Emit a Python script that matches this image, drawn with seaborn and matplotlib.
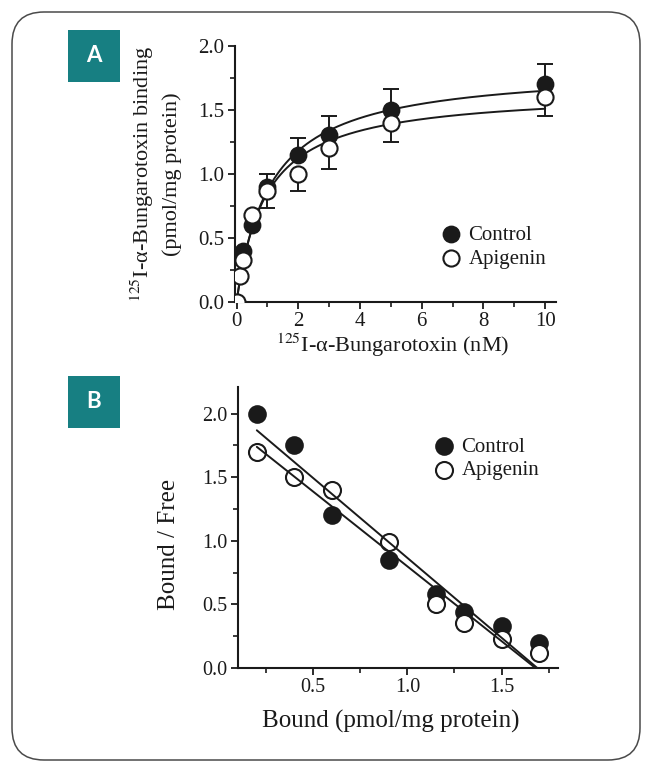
import numpy as np
import pandas as pd
import matplotlib
matplotlib.use("Agg")
import matplotlib.pyplot as plt
import seaborn as sns
from matplotlib.patches import FancyBboxPatch, Rectangle
from matplotlib.ticker import MultipleLocator, FormatStrFormatter

# ---- panel A : saturation binding ----
ctrl_conc = [0.2, 0.5, 1, 2, 3, 5, 10]
ctrl_bound = [0.40, 0.60, 0.90, 1.15, 1.30, 1.50, 1.70]
ctrl_err_up = [0.0, 0.0, 0.10, 0.13, 0.15, 0.16, 0.16]

api_conc = [0, 0.1, 0.2, 0.5, 1, 2, 3, 5, 10]
api_bound = [0.00, 0.20, 0.33, 0.68, 0.87, 1.00, 1.20, 1.40, 1.60]
api_err_down = [0.0, 0.0, 0.0, 0.0, 0.14, 0.13, 0.16, 0.15, 0.15]

# hyperbolic fit parameters (Bmax, Kd)
ctrl_bmax, ctrl_kd = 1.83, 1.10
api_bmax, api_kd = 1.65, 0.94

# ---- panel B : Scatchard ----
sc_bound = [0.2, 0.4, 0.6, 0.9, 1.15, 1.3, 1.5, 1.7]
sc_ctrl = [2.00, 1.75, 1.20, 0.85, 0.58, 0.44, 0.33, 0.20]
sc_api = [1.70, 1.50, 1.40, 0.99, 0.50, 0.35, 0.23, 0.12]

# linear fits (Bmax = x intercept, Kd = -1/slope)
sc_ctrl_bmax, sc_ctrl_kd = 1.69, 0.797
sc_api_bmax, sc_api_kd = 1.68, 0.851

TEAL = "#177f82"
INK = "#1a1a1a"

sns.set_theme(style="ticks")
plt.rcParams["font.family"] = ["Liberation Serif", "DejaVu Serif"]
plt.rcParams["mathtext.fontset"] = "stix"
plt.rcParams["text.color"] = INK
plt.rcParams["axes.labelcolor"] = INK
plt.rcParams["xtick.color"] = INK
plt.rcParams["ytick.color"] = INK

fig = plt.figure(figsize=(6.48, 7.72), dpi=100)
ax_a = fig.add_axes([235 / 648, 1 - 302 / 772, 321 / 648, 256.3 / 772])
ax_b = fig.add_axes([238 / 648, 1 - 668 / 772, 320 / 648, 281 / 772])


def style_axis(ax, tick_size):
    sns.despine(ax=ax)
    for side in ["left", "bottom"]:
        ax.spines[side].set_linewidth(1.5)
        ax.spines[side].set_color(INK)
    ax.tick_params(which="major", direction="out", length=5, width=1.3,
                   labelsize=tick_size, pad=2.5)
    ax.tick_params(which="minor", direction="out", length=3.5, width=1.2)
    ax.grid(False)
    ax.set_facecolor("white")


# ---------------- Panel A ----------------
xfit = np.linspace(0, 10, 300)
fit_df = pd.DataFrame({
    "x": np.concatenate([xfit, xfit]),
    "y": np.concatenate([ctrl_bmax * xfit / (ctrl_kd + xfit),
                         api_bmax * xfit / (api_kd + xfit)]),
    "grp": ["Control"] * len(xfit) + ["Apigenin"] * len(xfit),
})
sns.lineplot(data=fit_df, x="x", y="y", units="grp", estimator=None,
             color=INK, lw=1.4, ax=ax_a, zorder=2, legend=False)

ax_a.errorbar(ctrl_conc, ctrl_bound, yerr=[np.zeros(len(ctrl_conc)), ctrl_err_up],
              fmt="none", ecolor=INK, elinewidth=1.4, capsize=6, capthick=1.4, zorder=3)
ax_a.errorbar(api_conc, api_bound, yerr=[api_err_down, np.zeros(len(api_conc))],
              fmt="none", ecolor=INK, elinewidth=1.4, capsize=6, capthick=1.4, zorder=3)

sns.scatterplot(x=ctrl_conc, y=ctrl_bound, s=135, color=INK, edgecolor=INK,
                linewidth=1.2, label="Control", ax=ax_a, zorder=4)
sns.scatterplot(x=api_conc, y=api_bound, s=135, facecolor="white", edgecolor=INK,
                linewidth=1.5, label="Apigenin", ax=ax_a, zorder=5)

ax_a.set_xlim(-0.05, 10.35)
ax_a.set_ylim(0, 2.0)
ax_a.xaxis.set_major_locator(MultipleLocator(2))
ax_a.xaxis.set_minor_locator(MultipleLocator(1))
ax_a.yaxis.set_major_locator(MultipleLocator(0.5))
ax_a.yaxis.set_minor_locator(MultipleLocator(0.25))
ax_a.xaxis.set_major_formatter(FormatStrFormatter("%d"))
ax_a.yaxis.set_major_formatter(FormatStrFormatter("%.1f"))
style_axis(ax_a, 15)
ax_a.set_xlabel(r"$^{125}$I-α-Bungarotoxin (nM)", fontsize=16, va="top")
ax_a.xaxis.set_label_coords(0.49, -0.115)
ax_a.set_ylabel("$^{125}$I-α-Bungarotoxin binding\n(pmol/mg protein)",
                fontsize=16, linespacing=1.45)
ax_a.yaxis.set_label_coords(-0.165, 0.5)
ax_a.legend(loc="center left", bbox_to_anchor=(0.64, 0.215), frameon=False,
            fontsize=15, handlelength=1.0, handletextpad=0.35, labelspacing=0.2,
            borderpad=0, borderaxespad=0)

# ---------------- Panel B ----------------
xc = np.linspace(sc_bound[0], sc_ctrl_bmax, 50)
xa = np.linspace(sc_bound[0], sc_api_bmax, 50)
sc_fit = pd.DataFrame({
    "x": np.concatenate([xc, xa]),
    "y": np.concatenate([(sc_ctrl_bmax - xc) / sc_ctrl_kd,
                         (sc_api_bmax - xa) / sc_api_kd]),
    "grp": ["Control"] * len(xc) + ["Apigenin"] * len(xa),
})

sns.scatterplot(x=sc_bound, y=sc_ctrl, s=150, color=INK, edgecolor=INK,
                linewidth=1.2, label="Control", ax=ax_b, zorder=3)
sns.scatterplot(x=sc_bound, y=sc_api, s=150, facecolor="white", edgecolor=INK,
                linewidth=1.5, label="Apigenin", ax=ax_b, zorder=4)
sns.lineplot(data=sc_fit, x="x", y="y", units="grp", estimator=None,
             color=INK, lw=1.4, ax=ax_b, zorder=5, legend=False)

ax_b.set_xlim(0.1, 1.8)
ax_b.set_ylim(0, 2.21)
ax_b.xaxis.set_major_locator(MultipleLocator(0.5))
ax_b.xaxis.set_minor_locator(MultipleLocator(0.25))
ax_b.yaxis.set_major_locator(MultipleLocator(0.5))
ax_b.yaxis.set_minor_locator(MultipleLocator(0.25))
ax_b.xaxis.set_major_formatter(FormatStrFormatter("%.1f"))
ax_b.yaxis.set_major_formatter(FormatStrFormatter("%.1f"))
style_axis(ax_b, 14.5)
ax_b.set_xlabel("Bound (pmol/mg protein)", fontsize=18, va="top")
ax_b.xaxis.set_label_coords(0.478, -0.15)
ax_b.set_ylabel("Bound / Free", fontsize=18)
ax_b.yaxis.set_label_coords(-0.18, 0.44)
ax_b.legend(loc="center left", bbox_to_anchor=(0.61, 0.745), frameon=False,
            fontsize=15, handlelength=1.0, handletextpad=0.35, labelspacing=0.2,
            borderpad=0, borderaxespad=0)

# ---- panel letters ----
for letter, top_px in [("A", 30), ("B", 376)]:
    fig.patches.append(Rectangle((68 / 648, 1 - (top_px + 52) / 772), 52 / 648, 52 / 772,
                                 transform=fig.transFigure, facecolor=TEAL,
                                 edgecolor="none", zorder=0))
    fig.text(94 / 648, 1 - (top_px + 26) / 772, letter, color="white",
             fontsize=16, fontweight="bold", family="Lato", ha="center", va="center")

# ---- rounded frame ----
fig.patches.append(FancyBboxPatch((0.12, 0.12), 6.28, 7.48,
                                  boxstyle="round,pad=0,rounding_size=0.32",
                                  transform=fig.dpi_scale_trans, facecolor="none",
                                  edgecolor="#4a4a4a", lw=1.1, zorder=0))

fig.savefig("out.png", dpi=100, facecolor="white")
